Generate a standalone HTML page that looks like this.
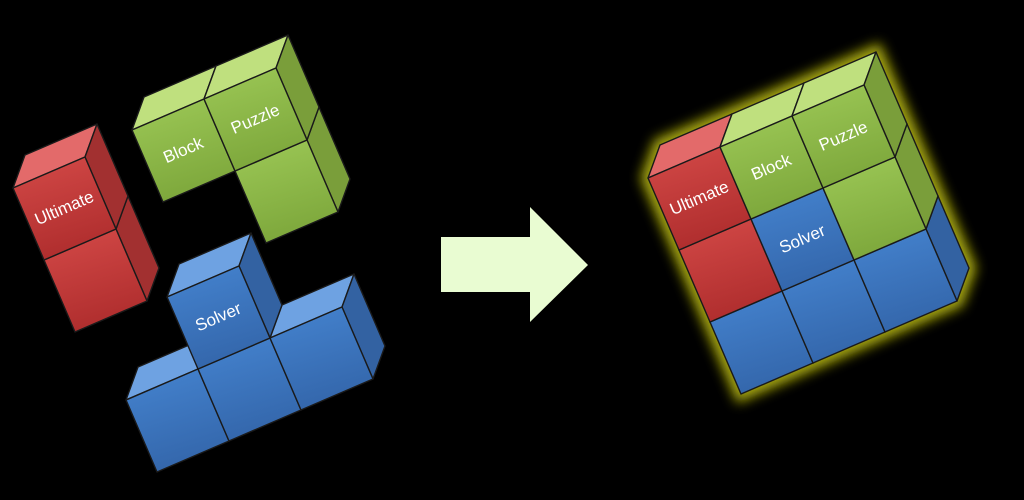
<!DOCTYPE html>
<html><head><meta charset="utf-8"><style>
html,body{margin:0;padding:0;background:#000;width:1024px;height:500px;overflow:hidden}
svg{display:block}
text{font-family:"Liberation Sans",sans-serif;font-size:17px;fill:#fff}
</style></head><body>
<svg id="s" width="1024" height="500" viewBox="0 0 1024 500" xmlns="http://www.w3.org/2000/svg">
<defs>
<filter id="glow" x="-20%" y="-20%" width="140%" height="140%"><feGaussianBlur stdDeviation="6"/></filter>
<linearGradient id="rf" x1="0" y1="0" x2="0.3" y2="1"><stop offset="0" stop-color="#d44a48"/><stop offset="1" stop-color="#b02e2e"/></linearGradient>
<linearGradient id="gf" x1="0" y1="0" x2="0.3" y2="1"><stop offset="0" stop-color="#9dc957"/><stop offset="1" stop-color="#7ea83c"/></linearGradient>
<linearGradient id="bf" x1="0" y1="0" x2="0.3" y2="1"><stop offset="0" stop-color="#4584d0"/><stop offset="1" stop-color="#3467ac"/></linearGradient>
</defs>
<polygon points="648,178 660,145 876,52 969,268 957,301 741,394" fill="#a8a810" stroke="#a8a810" stroke-width="14" filter="url(#glow)"/>
<polygon points="441,237 530,237 530,207 588,265 530,322 530,292 441,292" fill="#e9fcd2"/>
<g id="g"></g>
</svg>
<script>
var u=[72,-31],v=[31,72],d=[12,-33];
var C={r:{f:"url(#rf)",t:"#e36a6a",s:"#a23030"},g:{f:"url(#gf)",t:"#bfe07e",s:"#7a9e3a"},b:{f:"url(#bf)",t:"#6ea2e2",s:"#3362a2"}};
var G=document.getElementById('g');
function P(o,a,b){return [o[0]+a*u[0]+b*v[0],o[1]+a*u[1]+b*v[1]];}
function add(p,q){return [p[0]+q[0],p[1]+q[1]];}
function poly(pts,fill){var e=document.createElementNS("http://www.w3.org/2000/svg","polygon");
e.setAttribute("points",pts.map(function(p){return p[0].toFixed(1)+","+p[1].toFixed(1)}).join(" "));
e.setAttribute("fill",fill);e.setAttribute("stroke","#1a1a1a");e.setAttribute("stroke-width","1.4");e.setAttribute("stroke-linejoin","round");G.appendChild(e);}
function txt(o,c,r,s){var p=P(o,c+0.5,r+0.5);var e=document.createElementNS("http://www.w3.org/2000/svg","text");
e.setAttribute("x",p[0]);e.setAttribute("y",p[1]+5);e.setAttribute("text-anchor","middle");
e.setAttribute("transform","rotate(-23.3 "+p[0]+" "+(p[1])+")");e.textContent=s;G.appendChild(e);}
function piece(o,cells){
 cells.sort(function(a,b){return (b[1]-a[1])||(a[0]-b[0]);});
 cells.forEach(function(k){var c=k[0],r=k[1],col=C[k[2]];
  var tl=P(o,c,r),tr=P(o,c+1,r),bl=P(o,c,r+1),br=P(o,c+1,r+1);
  poly([tl,tr,add(tr,d),add(tl,d)],col.t);
  poly([tr,br,add(br,d),add(tr,d)],col.s);
  poly([tl,tr,br,bl],col.f);
 });
 cells.forEach(function(k){if(k[3])txt(o,k[0],k[1],k[3]);});
}
piece([13,188],[[0,0,'r','Ultimate'],[0,1,'r']]);
piece([132,130],[[0,0,'g','Block'],[1,0,'g','Puzzle'],[1,1,'g']]);
piece([126,400],[[1,-1,'b','Solver'],[0,0,'b'],[1,0,'b'],[2,0,'b']]);
piece([648,178],[[0,0,'r','Ultimate'],[0,1,'r'],[1,0,'g','Block'],[2,0,'g','Puzzle'],[2,1,'g'],[1,1,'b','Solver'],[0,2,'b'],[1,2,'b'],[2,2,'b']]);
</script>
</body></html>
